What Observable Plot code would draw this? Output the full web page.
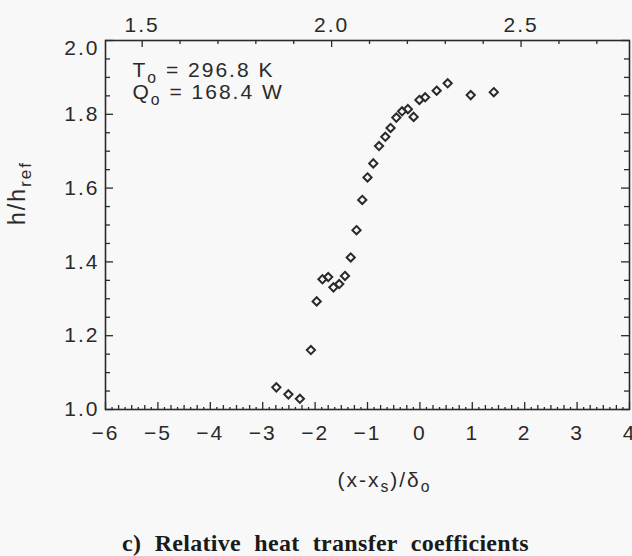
<!DOCTYPE html>
<html>
<head>
<meta charset="utf-8">
<script src="https://cdn.jsdelivr.net/npm/d3@7"></script>
<script src="https://cdn.jsdelivr.net/npm/@observablehq/plot@0.6"></script>
<style>
  html, body { margin: 0; padding: 0; background: #f8f8f8; }
  #chart svg { display: block; }
</style>
</head>
<body>
<div id="chart"></div>
<script>
// Normalised streamwise position (x - x_s)/δ_o of each measuring station
const position = [-2.74, -2.51, -2.29, -2.08, -1.97, -1.86, -1.75, -1.65, -1.54, -1.43,
                  -1.32, -1.21, -1.10, -1.00, -0.89, -0.78, -0.66, -0.56, -0.45, -0.34,
                  -0.23, -0.12, -0.01, 0.10, 0.32, 0.53, 0.97, 1.41];
// Heat transfer coefficient relative to the reference value
const hRatio = [1.060, 1.041, 1.029, 1.161, 1.293, 1.353, 1.359, 1.331, 1.340, 1.362,
                1.412, 1.486, 1.568, 1.629, 1.667, 1.714, 1.739, 1.763, 1.791, 1.808,
                1.814, 1.793, 1.839, 1.846, 1.864, 1.884, 1.852, 1.860];

// Axis tick labels
const xTickValues = [-6, -5, -4, -3, -2, -1, 0, 1, 2, 3, 4];
const yTickValues = [1.0, 1.2, 1.4, 1.6, 1.8, 2.0];
const topTickValues = [1.5, 2.0, 2.5];          // physical streamwise position x

// Shock position and reference boundary-layer thickness linking both x axes
const shockX = 2.233;
const delta0 = 0.1383;
const toNorm = t => (t - shockX) / delta0;
const toPhys = x => shockX + delta0 * x;

// Texts
const annotation = ["T_{o} = 296.8 K", "Q_{o} = 168.4 W"];
const xTitle = "(x-x_{s})/δ_{o}";
const yTitle = "h/h_{ref}";
const caption = "c) Relative heat transfer coefficients";

const points = position.map((x, i) => ({x, y: hRatio[i]}));

// Layout
const W = 632, H = 556;
const mT = 40, mR = 3, mB = 147, mL = 105;
const fW = W - mL - mR, fH = H - mT - mB;
const ink = "#2a2a2a";

// Minor tick positions
const xMinor = d3.range(-24, 17).map(k => k / 4).filter(v => !Number.isInteger(v));
const xFine = d3.range(-48, 32).filter(k => k % 2 !== 0).map(k => k / 8);
const topMinor = d3.range(14, 29).map(k => k / 10)
  .filter(t => !topTickValues.some(v => Math.abs(v - t) < 1e-9))
  .map(toNorm).filter(v => v >= -6 && v <= 4);
const yMinor = d3.range(0, 21).filter(k => k % 4 !== 0).map(k => 1 + k * 0.05);

const tick = {stroke: ink, strokeWidth: 1.3};

const plot = Plot.plot({
  width: W,
  height: H,
  marginTop: mT,
  marginRight: mR,
  marginBottom: mB,
  marginLeft: mL,
  style: {
    fontFamily: "'Liberation Sans', Arial, sans-serif",
    fontSize: "21px",
    letterSpacing: "2px",
    background: "#f8f8f8",
    color: ink
  },
  x: {domain: [-6, 4]},
  y: {domain: [1, 2]},
  marks: [
    Plot.frame({stroke: ink, strokeWidth: 1.6}),

    // inward tick marks on all four sides
    Plot.ruleX(xTickValues, {x: d => d, insetTop: fH - 7, ...tick}),
    Plot.ruleX(xMinor, {x: d => d, insetTop: fH - 4, ...tick}),
    Plot.ruleX(xFine, {x: d => d, insetTop: fH - 2, ...tick}),
    Plot.ruleX(topTickValues.map(toNorm), {x: d => d, insetBottom: fH - 7, ...tick}),
    Plot.ruleX(topMinor, {x: d => d, insetBottom: fH - 4, ...tick}),
    Plot.ruleY(yTickValues, {y: d => d, insetRight: fW - 8, ...tick}),
    Plot.ruleY(yMinor, {y: d => d, insetRight: fW - 5, ...tick}),
    Plot.ruleY(yTickValues, {y: d => d, insetLeft: fW - 8, ...tick}),
    Plot.ruleY(yMinor, {y: d => d, insetLeft: fW - 5, ...tick}),

    // tick labels
    Plot.axisX({anchor: "bottom", ticks: xTickValues, tickFormat: d3.format("d"),
                tickSize: 0, tickPadding: 16, label: null, fill: ink}),
    Plot.axisX({anchor: "top", ticks: topTickValues.map(toNorm),
                tickFormat: d => d3.format(".1f")(toPhys(d)),
                tickSize: 0, tickPadding: 9, label: null, fill: ink}),
    Plot.axisY({anchor: "left", ticks: yTickValues.slice(0, -1), tickFormat: d3.format(".1f"),
                tickSize: 0, tickPadding: 6, label: null, fill: ink}),
    Plot.axisY({anchor: "left", ticks: yTickValues.slice(-1), tickFormat: d3.format(".1f"),
                tickSize: 0, tickPadding: 6, dy: 8, label: null, fill: ink}),

    // measurements
    Plot.dot(points, {x: "x", y: "y", symbol: "diamond2", r: 3.7,
                      fill: "none", stroke: ink, strokeWidth: 2}),

    // conditions
    Plot.text([annotation[0]], {frameAnchor: "top-left", dx: 27, dy: 22,
      textAnchor: "start", fill: ink}),
    Plot.text([annotation[1]], {frameAnchor: "top-left", dx: 27, dy: 44,
      textAnchor: "start", fill: ink}),

    // axis titles
    Plot.text([xTitle], {frameAnchor: "bottom", dx: 17, dy: 77, lineAnchor: "bottom",
      fill: ink}),
    Plot.text([yTitle], {frameAnchor: "left", dx: -88, dy: 0, rotate: -90,
      fontSize: 23, fill: ink}),

    // figure caption
    Plot.text([caption], {frameAnchor: "bottom", dx: -42, dy: 141, lineAnchor: "bottom",
      fontFamily: "'Liberation Serif', 'Times New Roman', serif", fontWeight: "bold",
      fontSize: 24, fill: "#1a1a1a"})
  ]
});

document.getElementById("chart").append(plot);

// Turn "_{...}" markup into subscript tspans
function applySubscripts(svg, scale, drop) {
  d3.select(svg).selectAll("text").each(function () {
    const s = this.textContent;
    if (!s.includes("_{")) return;
    const size = parseFloat(getComputedStyle(this).fontSize);
    const parts = s.split(/_\{([^}]*)\}/);
    const el = d3.select(this).text(null);
    let shifted = 0;
    parts.forEach((p, i) => {
      if (!p) return;
      const sub = i % 2 === 1;
      const target = sub ? drop * size : 0;
      const t = el.append("tspan").text(p);
      if (target !== shifted) t.attr("dy", target - shifted);
      shifted = target;
      if (sub) t.attr("font-size", size * scale);
    });
  });
}
applySubscripts(plot, 0.75, 0.25);

// The caption is set in tighter serif type with wider word gaps
d3.select(plot).selectAll("text")
  .filter(function () { return this.textContent === caption; })
  .style("letter-spacing", "0.3px")
  .style("word-spacing", "7px");
</script>
</body>
</html>
